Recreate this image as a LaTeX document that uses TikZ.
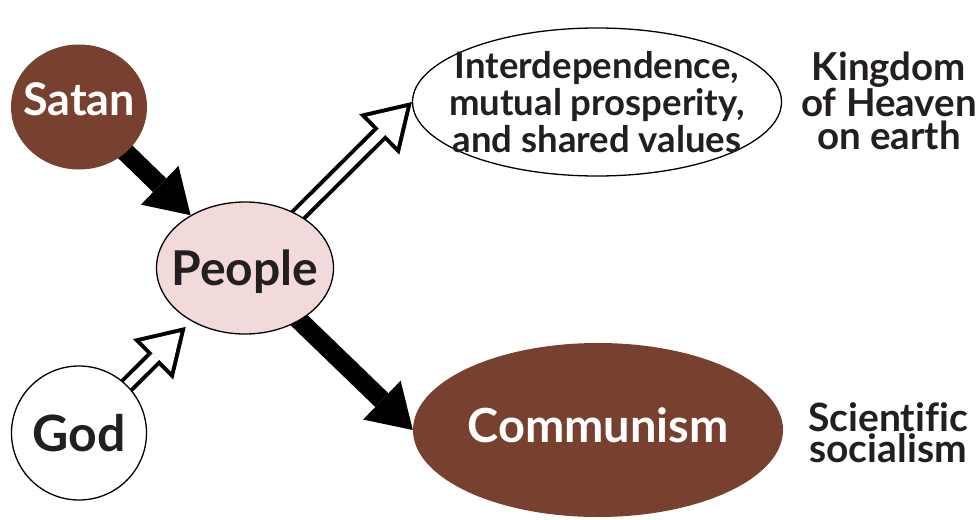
\documentclass[tikz,border=0pt]{standalone}
\usepackage{fontspec}
\setmainfont{Lato}[Ligatures=NoCommon]
\usetikzlibrary{shapes.geometric,arrows.meta,backgrounds}
\definecolor{rust}{HTML}{78402E}
\definecolor{blush}{HTML}{F2DADA}
\definecolor{ink}{HTML}{231F20}
\tikzset{
  blob/.style={ellipse, inner xsep=-30pt, inner ysep=-10pt, align=center, text=ink,
    font=\bfseries\fontsize{48}{48}\selectfont},
  dark/.style={blob, fill=rust, text=white},
  light/.style={blob, draw, line width=1.3pt, fill=#1},
  note/.style={align=center, inner sep=0pt, text=ink},
  solidarrow/.style={line width=19pt,
    -{Triangle[width=54pt,length=43pt,line width=0pt]}, shorten <=-12pt},
  hollowout/.style={line width=17pt,
    -{Triangle[width=57pt,length=46pt,line width=0pt]}, shorten <=-12pt},
  hollowin/.style={white, line width=9pt,
    -{Triangle[width=42.6pt,length=34.4pt,line width=0pt]}, shorten <=-12pt}
}
\begin{document}
\begin{tikzpicture}[x=1pt,y=-1pt]
\useasboundingbox (0,0) rectangle (979,519);
% the forces
\node[dark, minimum width=136pt, minimum height=125pt, text height=32pt, text depth=16pt,
  font=\bfseries\fontsize{45}{45}\selectfont] (satan) at (79,107) {Satan};
\node[light=white, minimum width=135pt, minimum height=134pt,
  font=\bfseries\fontsize{50}{50}\selectfont] (god) at (79,433) {God};
\node[light=blush, minimum width=177pt, minimum height=132pt, text height=36pt, text depth=2pt] (people) at (245,268) {People};

% the two outcomes
\node[light=white, minimum width=369pt, minimum height=148pt,
  font=\bfseries\fontsize{36.5}{37}\selectfont] (unity) at (597,102)
  {Interdependence,\\mutual prosperity,\\and shared values};
\node[dark, minimum width=370pt, minimum height=174pt, text height=32pt, text depth=8pt,
  font=\bfseries\fontsize{47}{47}\selectfont] (communism) at (598,430) {Communism};

% side notes
\node[note, font=\bfseries\fontsize{38.5}{33}\selectfont] (heaven) at (889,101)
  {Kingdom\\of Heaven\\on earth};
\node[note, font=\bfseries\fontsize{39}{31}\selectfont] (science) at (888,433)
  {Scientific\\socialism};

\begin{scope}[on background layer]
\draw[solidarrow] (satan) -- (people);
\draw[solidarrow] (people) -- (communism.west);
\draw[hollowout, shorten >=8pt] (god) -- (people);
\draw[hollowin, shorten >=15.6pt] (god) -- (people);
\draw[hollowout] (people) -- (unity.west);
\draw[hollowin, shorten >=7.6pt] (people) -- (unity.west);
\end{scope}
\end{tikzpicture}
\end{document}
